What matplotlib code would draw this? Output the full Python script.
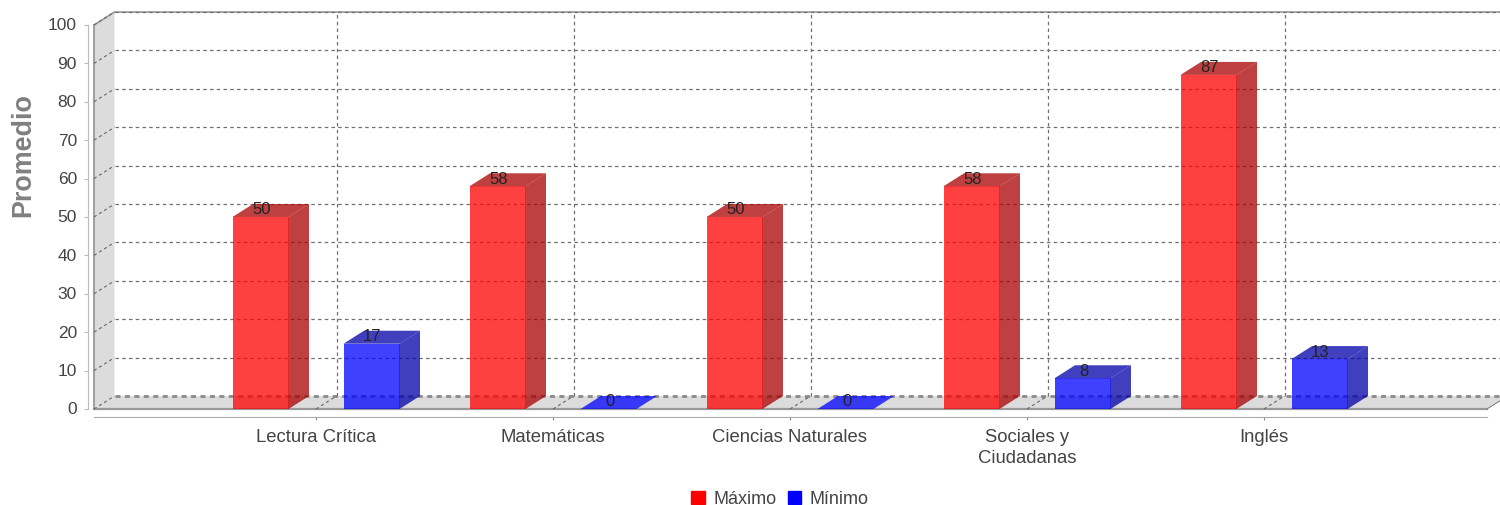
import matplotlib
matplotlib.use('Agg')
import matplotlib.pyplot as plt
from matplotlib.patches import Patch
from matplotlib.transforms import ScaledTranslation

plt.rcParams['font.family'] = ['Liberation Sans', 'DejaVu Sans']

categories = ['Lectura Crítica', 'Matemáticas', 'Ciencias Naturales', 'Sociales y\nCiudadanas', 'Inglés']
maximo = [50, 58, 50, 58, 87]
minimo = [17, 0, 0, 8, 13]
y_ticks = [0, 10, 20, 30, 40, 50, 60, 70, 80, 90, 100]

W, H = 1500, 506
fig = plt.figure(figsize=(W / 100, H / 100), dpi=100)

# front plane of the fake 3d box, in pixels
left, right, top, bottom = 94, 1487, 26, 410
ax = fig.add_axes([left / W, 1 - bottom / H, (right - left) / W, (bottom - top) / H])
ax.patch.set_visible(False)

px_per_cat = 237
px_per_val = (bottom - top) / 100
x0 = (left - 316) / px_per_cat
x1 = (right - 316) / px_per_cat
ax.set_xlim(x0, x1)
ax.set_ylim(0, 100)

# depth offset, in data units
dx = 20.5 / px_per_cat
dy = 13 / px_per_val
bar_w = 56 / px_per_cat
bar_off = 55.5 / px_per_cat


def poly(xs, ys, color, z, alpha=1.0):
    ax.fill(xs, ys, color=color, alpha=alpha, lw=0, zorder=z, clip_on=False)


# wall and floor
poly([x0, x0 + dx, x0 + dx, x0], [0, dy, 100 + dy, 100], '#dcdcdc', 1)
poly([x0, x1, x1 + dx, x0 + dx], [0, 0, dy, dy], '#dcdcdc', 1)
ax.plot([x0, x0], [0, 100], color='#999999', lw=1.3, zorder=2, clip_on=False)
ax.plot([x0, x1], [0, 0], color='#999999', lw=1.6, zorder=2, clip_on=False)
ax.plot([x1, x1 + dx], [0, dy], color='#777777', lw=0.7, zorder=2, clip_on=False)

# gridlines
dash = (0, (2.8, 2.6))
for v in y_ticks:
    ax.plot([x0, x0 + dx], [v, v + dy], color='#666666', lw=0.8, ls=dash, zorder=3, clip_on=False)
    if v == 0:
        ax.plot([x0 + dx, x1 + dx], [dy, dy], color='#8a8a8a', lw=2, ls=(0, (1.8, 1.6)), zorder=3, clip_on=False)
    else:
        ax.plot([x0 + dx, x1 + dx], [v + dy, v + dy], color='#707070', lw=0.9, ls=dash, zorder=3, clip_on=False)
ax.plot([x0, x0 + dx, x1 + dx], [100, 100 + dy, 100 + dy], color='#999999', lw=1.2, zorder=2, clip_on=False)
for i in range(len(categories)):
    ax.plot([i, i + dx], [0, dy], color='#666666', lw=0.8, ls=dash, zorder=3, clip_on=False)
    ax.plot([i + dx, i + dx], [dy, 100 + dy], color='#707070', lw=0.9, ls=dash, zorder=3, clip_on=False)


def draw_bar(xc, v, front, dark):
    a = xc - bar_w / 2
    b = xc + bar_w / 2
    if v > 0:
        poly([a, b, b, a], [0, 0, v, v], front, 5, 0.75)
        poly([b, b + dx, b + dx, b], [0, dy, v + dy, v], dark, 5, 0.75)
    poly([a, b, b + dx, a + dx], [v, v, v + dy, v + dy], dark if v > 0 else front, 5, 0.75)
    ax.text(xc + 1 / px_per_cat, v + dy * 0.62, str(v), ha='center', va='center', fontsize=12,
            color='#222222', zorder=6)


for i, (a, b) in enumerate(zip(maximo, minimo)):
    draw_bar(i - bar_off, a, '#ff0000', '#aa0000')
    draw_bar(i + bar_off, b, '#0000ff', '#0000aa')

# axes
for s in ['top', 'right']:
    ax.spines[s].set_visible(False)
ax.spines['left'].set_position(('outward', 4.3))
ax.spines['bottom'].set_position(('outward', 5.4))
ax.spines['left'].set_color('#bbbbbb')
ax.spines['bottom'].set_color('#aaaaaa')
ax.set_yticks(y_ticks)
ax.set_xticks(range(len(categories)))
ax.set_xticklabels(categories, fontsize=13.3, color='#444444', linespacing=1.3)
ax.tick_params(axis='y', labelsize=12.5, labelcolor='#444444', color='#bbbbbb', length=3, pad=5)
ax.tick_params(axis='x', color='#888888', length=2, pad=6)
# tick labels sit a little above their ticks in the original
lift = ScaledTranslation(0, 1.5 / 100, fig.dpi_scale_trans)
for lab in ax.get_yticklabels():
    lab.set_transform(lab.get_transform() + lift)

fig.text(23 / W, 1 - 155 / H, 'Promedio', rotation=90, ha='center', va='center',
         fontsize=19.4, fontweight='bold', color='#808080')

fig.legend(handles=[Patch(color='#ff0000', label='Máximo'), Patch(color='#0000ff', label='Mínimo')],
           loc='center', bbox_to_anchor=(780 / W, 1 - 500 / H), ncol=2, frameon=False,
           fontsize=13, labelcolor='#444444', handlelength=0.75, handleheight=0.75,
           handletextpad=0.45, columnspacing=0.65)

fig.savefig('out.png', dpi=100)
